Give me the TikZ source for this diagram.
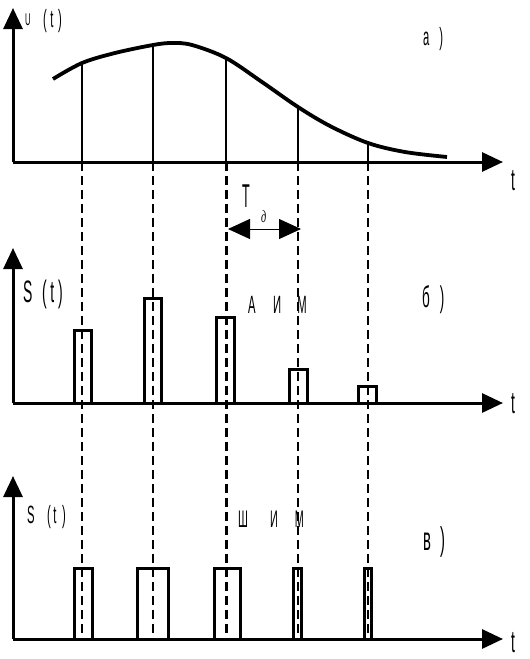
\documentclass[tikz,border=0pt]{standalone}
\usepackage{fontspec}
\usepackage{graphicx}
\newfontfamily\nar{Liberation Sans}[FakeStretch=0.45]
\newfontfamily\dfont{Liberation Serif}[FakeStretch=0.6]
\usetikzlibrary{arrows.meta}
\newcommand\fs[1]{\fontsize{#1}{#1}\selectfont}
\begin{document}
\begin{tikzpicture}[x=1pt,y=-1pt,
  axis/.style={line width=3pt,-{Triangle[length=21pt,width=19pt]}},
  samp/.style={line width=2.3pt},
  guide/.style={dash pattern=on 9pt off 5pt},
  bar/.style={line width=3pt},
  lbl/.style={inner sep=0pt,anchor=base west}]
\useasboundingbox (0,0) rectangle (530,659);
% ---------- panel a ----------
\coordinate (oa) at (13,162);
\coordinate (ya) at (13,8);
\coordinate (xa) at (503,162);
\draw[axis] (oa) -- (ya);
\draw[axis] (oa) -- (xa);
\coordinate (c1) at (82,63);
\coordinate (c2) at (153,45);
\coordinate (c3) at (226,58);
\coordinate (c4) at (298,107);
\coordinate (c5) at (368,143);
\draw[line width=3.8pt] plot[smooth,tension=0.55] coordinates
  {(53,79) (82,63) (115,53) (153,45) (172,43) (192,45) (226,58) (262,82) (298,107) (330,126) (368,143) (405,152) (447,157)};
\foreach \i/\x in {1/82,2/153,3/226,4/298,5/368}{
  \coordinate (a\i) at (\x,162);
  \coordinate (g\i) at (\x,639);
  \draw[samp] (c\i) -- (a\i);
}
% guide lines
\draw[guide,line width=1.2pt] (a1) -- (g1);
\draw[guide,line width=2.5pt] (a2) -- (g2);
\draw[guide,line width=3pt] (a3) -- (g3);
\draw[guide,line width=2.2pt] (a4) -- (g4);
\draw[guide,line width=1.8pt] (a5) -- (g5);
\node[lbl,font=\nar\fs{25}] (lu) at (25,27)
  {\raisebox{2pt}{\fs{17}U}\hspace{12.5pt}(\hspace{3.5pt}t\hspace{4.5pt})};
\node[lbl,font=\nar\fs{25}] (la) at (423,45) {а\hspace{10pt})};
\node[lbl,font=\nar\fs{31}] (ta) at (511,190) {t};
% T_d
\coordinate (dl) at (228,229);
\coordinate (dr) at (301,229);
\draw[line width=1pt,{Triangle[length=22pt,width=20pt]}-{Triangle[length=22pt,width=20pt]}] (dl) -- (dr);
\node[lbl,font=\nar\fs{33}] (tt) at (242,207) {\scalebox{0.85}[1]{T}};
\node[lbl,font=\dfont\itshape\fs{17}] (td) at (261,222) {д};
% ---------- panel b ----------
\coordinate (ob) at (13,403);
\coordinate (yb) at (13,248);
\coordinate (xb) at (503,403);
\draw[axis] (ob) -- (yb);
\draw[axis] (ob) -- (xb);
\draw[bar] (74.5,403) rectangle (91.5,330.5);
\draw[bar] (144.5,403) rectangle (161.5,298);
\draw[bar] (216.5,403) rectangle (234.5,317);
\draw[bar] (289.5,403) rectangle (307.5,369.5);
\draw[bar] (358.5,403) rectangle (376.5,386.5);
\node[lbl,font=\nar\fs{31}] (ls1) at (23,302)
  {S\hspace{9.7pt}(\hspace{3.5pt}t\hspace{4pt})};
\node[lbl,font=\nar\fs{25}] (lam) at (248,313)
  {А\hspace{17.5pt}И\hspace{16pt}М};
\node[lbl,font=\nar\fs{30}] (lb) at (422,307) {б\hspace{10pt})};
\node[lbl,font=\nar\fs{31}] (tb) at (511,413) {t};
% ---------- panel c ----------
\coordinate (oc) at (13,639);
\coordinate (yc) at (13,476);
\coordinate (xc) at (503,639);
\draw[axis] (oc) -- (yc);
\draw[axis] (oc) -- (xc);
\draw[bar] (74.5,639) rectangle (92,568.5);
\draw[bar] (137.5,639) rectangle (168.5,568.5);
\draw[bar] (214.5,639) rectangle (240.5,568.5);
\draw[bar] (293.5,639) rectangle (301.5,568.5);
\draw[bar] (364.5,639) rectangle (371.5,568.5);
\node[lbl,font=\nar\fs{25}] (ls2) at (27,523)
  {S\hspace{12.5pt}(\hspace{2.5pt}t\hspace{5.5pt})};
\node[lbl,font=\nar\fs{24}] (lsm) at (238,527)
  {Ш\hspace{22pt}И\hspace{17pt}М};
\node[lbl,font=\nar\fs{33}] (lc) at (423,550) {в\hspace{9pt})};
\node[lbl,font=\nar\fs{31}] (tc) at (511,652) {t};
\end{tikzpicture}
\end{document}
